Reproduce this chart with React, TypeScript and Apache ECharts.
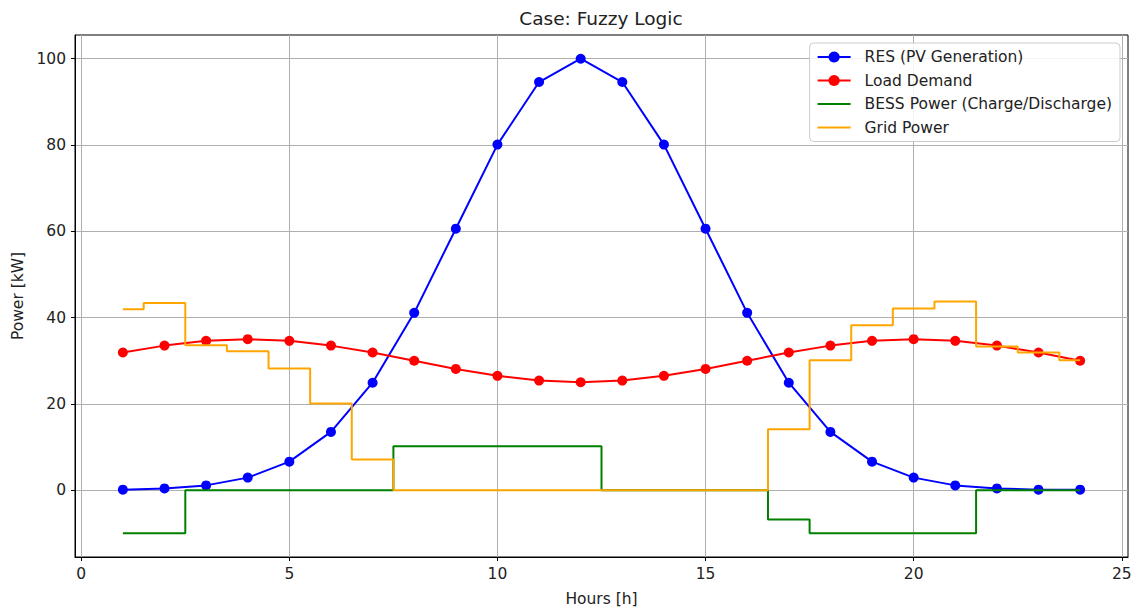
import React, { useEffect, useRef } from "react";
import * as echarts from "echarts";

const hours = [1, 2, 3, 4, 5, 6, 7, 8, 9, 10, 11, 12, 13, 14, 15, 16, 17, 18, 19, 20, 21, 22, 23, 24];
const resPV = [0.1, 0.4, 1.1, 2.9, 6.6, 13.5, 24.9, 41.1, 60.6, 80.1, 94.6, 100, 94.6, 80.1, 60.6, 41.1, 24.9, 13.5, 6.6, 2.9, 1.1, 0.4, 0.1, 0.1];
const loadDemand = [31.9, 33.5, 34.6, 35, 34.6, 33.5, 31.9, 30, 28.1, 26.5, 25.4, 25, 25.4, 26.5, 28.1, 30, 31.9, 33.5, 34.6, 35, 34.6, 33.5, 31.9, 30];
const bessPower = [-10, -10, 0, 0, 0, 0, 0, 10.2, 10.2, 10.2, 10.2, 10.2, 0, 0, 0, 0, -6.8, -10, -10, -10, -10, 0, 0, 0];
const gridPower = [41.9, 43.4, 33.6, 32.2, 28.2, 20.1, 7.1, 0, 0, 0, 0, 0, 0, 0, 0, 0, 14.1, 30.1, 38.2, 42.1, 43.7, 33.3, 31.9, 30.1];
const xTicks = [0, 5, 10, 15, 20, 25];
const yTicks = [0, 20, 40, 60, 80, 100];

const FONT = "DejaVu Sans";
const HIDDEN = { color: "rgba(0,0,0,0)", borderColor: "rgba(0,0,0,0)", borderWidth: 0 };

export default function App() {
  const ref = useRef<HTMLDivElement>(null);
  useEffect(() => {
    document.body.style.margin = "0";
    const chart = echarts.init(ref.current!, null, { renderer: "svg" });
    const pairs = (ys: number[]) => hours.map((h, i) => [h, ys[i]]);
    chart.setOption({
      animation: false,
      backgroundColor: "#ffffff",
      textStyle: { fontFamily: FONT },
      graphic: [
        {
          type: "text",
          x: 601,
          y: 18,
          style: {
            text: "Case: Fuzzy Logic",
            textAlign: "center",
            textVerticalAlign: "middle",
            font: `18.5px "${FONT}"`,
            fill: "#222",
          },
        },
      ],
      grid: {
        left: 75,
        right: 9,
        top: 35,
        bottom: 53,
        outerBoundsMode: "none",
        containLabel: false,
        show: true,
        borderColor: "#000",
        borderWidth: 1,
        backgroundColor: "transparent",
      },
      legend: {
        orient: "vertical",
        right: 17,
        top: 43,
        itemWidth: 33,
        itemHeight: 14,
        itemGap: 7.5,
        padding: [6, 8, 6, 7],
        backgroundColor: "rgba(255,255,255,0.85)",
        borderColor: "#cccccc",
        borderWidth: 1,
        borderRadius: 4,
        textStyle: { fontFamily: FONT, fontSize: 15.5, color: "#222", padding: [0, 0, 0, 9] },
        data: [
          { name: "RES (PV Generation)" },
          { name: "Load Demand" },
          { name: "BESS Power (Charge/Discharge)", itemStyle: HIDDEN },
          { name: "Grid Power", itemStyle: HIDDEN },
        ],
      },
      xAxis: {
        type: "value",
        min: -0.15,
        max: 25.15,
        name: "Hours [h]",
        nameLocation: "middle",
        nameGap: 34,
        nameTextStyle: { fontFamily: FONT, fontSize: 15.5, color: "#222" },
        axisLine: { show: true, onZero: false, lineStyle: { color: "#000", width: 1 } },
        axisTick: { show: true, length: 4, lineStyle: { color: "#000" }, customValues: xTicks },
        axisLabel: {
          margin: 9,
          fontFamily: FONT,
          fontSize: 15.5,
          color: "#222",
          customValues: xTicks,
        },
        splitLine: { show: true, lineStyle: { color: "#b0b0b0", width: 1 } },
      },
      yAxis: {
        type: "value",
        min: -15.5,
        max: 105.5,
        name: "Power [kW]",
        nameLocation: "middle",
        nameGap: 49,
        nameTextStyle: { fontFamily: FONT, fontSize: 15.5, color: "#222" },
        axisLine: { show: true, onZero: false, lineStyle: { color: "#000", width: 1 } },
        axisTick: { show: true, length: 4, lineStyle: { color: "#000" }, customValues: yTicks },
        axisLabel: {
          margin: 9,
          fontFamily: FONT,
          fontSize: 15.5,
          color: "#222",
          customValues: yTicks,
        },
        splitLine: { show: true, lineStyle: { color: "#b0b0b0", width: 1 } },
      },
      series: [
        {
          name: "RES (PV Generation)",
          type: "line",
          data: pairs(resPV),
          color: "#0000ff",
          symbol: "circle",
          symbolSize: 10,
          lineStyle: { width: 2, color: "#0000ff" },
          itemStyle: { color: "#0000ff" },
          z: 2,
        },
        {
          name: "Load Demand",
          type: "line",
          data: pairs(loadDemand),
          color: "#ff0000",
          symbol: "circle",
          symbolSize: 10,
          lineStyle: { width: 2, color: "#ff0000" },
          itemStyle: { color: "#ff0000" },
          z: 3,
        },
        {
          name: "BESS Power (Charge/Discharge)",
          type: "line",
          step: "middle",
          data: pairs(bessPower),
          color: "#008000",
          symbol: "none",
          lineStyle: { width: 2, color: "#008000" },
          itemStyle: { color: "#008000" },
          z: 4,
        },
        {
          name: "Grid Power",
          type: "line",
          step: "middle",
          data: pairs(gridPower),
          color: "#ffa500",
          symbol: "none",
          lineStyle: { width: 2, color: "#ffa500" },
          itemStyle: { color: "#ffa500" },
          z: 5,
        },
      ],
    });
    return () => chart.dispose();
  }, []);
  return <div ref={ref} style={{ width: 1137, height: 610 }} />;
}
